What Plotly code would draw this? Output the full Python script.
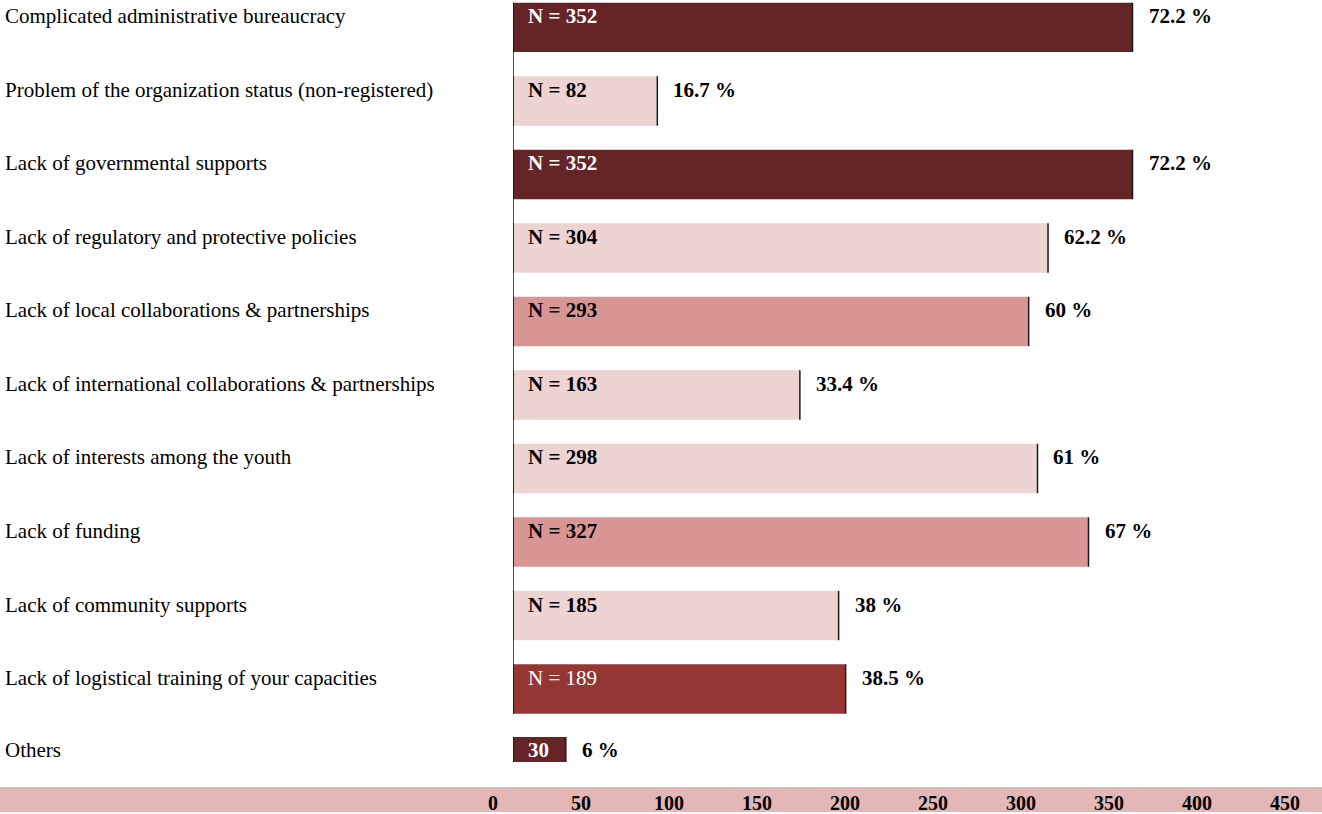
import plotly.graph_objects as go

# Survey: obstacles reported by organizations
categories = [
    "Complicated administrative bureaucracy",
    "Problem of the organization status (non-registered)",
    "Lack of governmental supports",
    "Lack of regulatory and protective policies",
    "Lack of local collaborations & partnerships",
    "Lack of international collaborations & partnerships",
    "Lack of interests among the youth",
    "Lack of funding",
    "Lack of community supports",
    "Lack of logistical training of your capacities",
    "Others",
]
n_values = [352, 82, 352, 304, 293, 163, 298, 327, 185, 189, 30]
percents = [72.2, 16.7, 72.2, 62.2, 60, 33.4, 61, 67, 38, 38.5, 6]
x_ticks = [0, 50, 100, 150, 200, 250, 300, 350, 400, 450]

DARK = "#652426"
LIGHT = "#eed3d3"
MEDIUM = "#d99594"
BRICK = "#943634"
BAND = "#e4b7b7"

bar_colors = [DARK, LIGHT, DARK, LIGHT, MEDIUM, LIGHT, LIGHT, MEDIUM, LIGHT, BRICK, DARK]
label_colors = ["white", "black", "white", "black", "black", "black",
                "black", "black", "black", "white", "white"]
label_bold = [True] * 9 + [False, True]

FONT = "Liberation Serif, Times New Roman, serif"

W, H = 1322, 814
ML, MR, MT, MB = 513, 0, 0, 25
PW, PH = W - ML - MR, H - MT - MB

# row geometry in category units
bar_w = [0.672] * 10 + [0.34]
bar_off = [-w / 2 for w in bar_w[:10]] + [-0.346]
text_shift = [11] * 10 + [12.5]

fig = go.Figure(
    go.Bar(
        x=n_values,
        y=categories,
        orientation="h",
        marker=dict(color=bar_colors, line=dict(width=0)),
        width=bar_w,
        offset=bar_off,
        hoverinfo="skip",
    )
)

annotations = []
shapes = []
for i, (cat, n, p) in enumerate(zip(categories, n_values, percents)):
    y0 = i + bar_off[i]
    y1 = y0 + bar_w[i]
    # category name at the far left
    annotations.append(dict(
        x=(3 - ML) / PW, xref="paper", xanchor="left",
        y=cat, yref="y", yshift=text_shift[i],
        text=cat, showarrow=False,
        font=dict(family=FONT, size=21, color="black"),
    ))
    # count inside the bar
    n_text = str(n) if cat == "Others" else f"N = {n}"
    annotations.append(dict(
        x=0, xref="x", xanchor="left", xshift=13,
        y=cat, yref="y", yshift=text_shift[i],
        text=n_text, showarrow=False,
        font=dict(family=FONT, size=21, color=label_colors[i],
                  weight="bold" if label_bold[i] else "normal"),
    ))
    # percentage right of the bar
    annotations.append(dict(
        x=n, xref="x", xanchor="left", xshift=14,
        y=cat, yref="y", yshift=text_shift[i],
        text=f"{p:g} %", showarrow=False,
        font=dict(family=FONT, size=21, color="black", weight="bold"),
    ))
    # dark right edge of each bar
    shapes.append(dict(
        type="line", xref="x", yref="y", x0=n, x1=n, y0=y0, y1=y1,
        line=dict(color="#1a1a1a", width=1.5), layer="above",
    ))
    # dark left edge of each bar
    shapes.append(dict(
        type="line", xref="x", yref="y", x0=0, x1=0, y0=y0, y1=y1,
        line=dict(color="#1a1a1a", width=1.5), layer="above",
    ))

# continuous spine along the main block of bars
shapes.append(dict(
    type="line", xref="x", yref="y", x0=0, x1=0,
    y0=bar_off[0], y1=9 + bar_off[9] + bar_w[9],
    line=dict(color="#1a1a1a", width=1.5), layer="above",
))

# shaded band behind the value axis
shapes.append(dict(
    type="rect", xref="paper", yref="paper",
    x0=-ML / PW, x1=1, y0=-MB / PH, y1=0,
    fillcolor=BAND, line=dict(width=0), layer="below",
))

fig.update_layout(
    width=W, height=H,
    margin=dict(l=ML, r=MR, t=MT, b=MB, pad=0),
    paper_bgcolor="white", plot_bgcolor="white",
    showlegend=False,
    annotations=annotations,
    shapes=shapes,
    xaxis=dict(
        range=[0, PW / 1.76],
        tickvals=x_ticks,
        ticktext=[str(t) for t in x_ticks],
        showgrid=False, zeroline=False, showline=False, ticks="",
        tickfont=dict(family=FONT, size=20, color="black", weight="bold"),
        ticklabelshift=-20,
        ticklabelstandoff=2,
        fixedrange=True,
    ),
    yaxis=dict(
        type="category",
        categoryorder="array", categoryarray=categories,
        range=[10.333, -0.373],
        showticklabels=False, showgrid=False, zeroline=False,
        showline=False, ticks="",
        fixedrange=True,
    ),
)

fig.write_html("out.html", config={"displayModeBar": False})
